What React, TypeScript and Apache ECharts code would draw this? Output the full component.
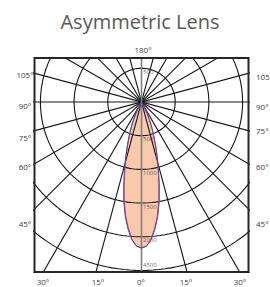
import React, { useEffect, useRef } from "react";
import * as echarts from "echarts";

// Ring (intensity grid) values in cd and their printed labels
const ringValues = [500, 1000, 1500, 2000, 2500, 3000];
const ringLabelValues = [500, 1000, 1500, 2000, 2500];
const ringLabels = ["500", "1000", "1500", "2000", "4500"];
// Spoke (diameter) angles in degrees, measured from the downward 0° direction
const spokeAngles = [0, 15, 30, 45, 60, 75, 90, 105, 120, 135, 150, 165];
// Luminous intensity curve: angle from nadir (deg) -> intensity (cd)
const curveAngles = [0, 2, 4, 6, 8, 10, 12, 14, 16, 18, 20, 22, 24, 26, 28, 30];
const redIntensity = [2170, 2140, 2040, 1880, 1700, 1480, 1240, 1020, 830, 660, 520, 400, 290, 190, 90, 0];
const blueIntensity = [2165, 2140, 2050, 1900, 1725, 1510, 1270, 1045, 850, 680, 535, 410, 300, 195, 95, 0];
// Angle labels around the frame
const leftAngleLabels = ["105°", "90°", "75°", "60°", "45°"];
const rightAngleLabels = ["105", "90°", "75°", "60°", "45°"];
const bottomAngleLabels = ["30°", "15°", "0°", "15°", "30°"];
const topAngleLabel = "180°";
const titleText = "Asymmetric Lens";

const rad = (d: number) => (d * Math.PI) / 180;

function curvePoints(angles: number[], vals: number[]): number[][] {
  const pts: number[][] = [];
  for (let i = angles.length - 1; i >= 0; i--) {
    const a = rad(angles[i]);
    pts.push([vals[i] * Math.sin(a), -vals[i] * Math.cos(a)]);
  }
  for (let i = 1; i < angles.length; i++) {
    const a = rad(-angles[i]);
    pts.push([vals[i] * Math.sin(a), -vals[i] * Math.cos(a)]);
  }
  return pts;
}

function ringPoints(r: number): number[][] {
  const pts: number[][] = [];
  for (let d = 0; d <= 360; d += 2) {
    pts.push([r * Math.sin(rad(d)), -r * Math.cos(rad(d))]);
  }
  return pts;
}

export default function App() {
  const ref = useRef<HTMLDivElement>(null);
  useEffect(() => {
    if (!ref.current) return;
    const chart = echarts.init(ref.current, null, { renderer: "svg" });
    const redPts = curvePoints(curveAngles, redIntensity);
    const bluePts = curvePoints(curveAngles, blueIntensity);
    const R = 3200;
    const series: any[] = [];
    series.push({
      type: "custom",
      coordinateSystem: "cartesian2d",
      data: [0],
      silent: true,
      z: 1,
      renderItem: (_p: any, api: any) => ({
        type: "polygon",
        shape: { points: bluePts.map((p) => api.coord(p)) },
        style: { fill: "#f8c9ab", stroke: "none" },
      }),
    });
    ringValues.forEach((r) => {
      series.push({
        type: "line",
        data: ringPoints(r),
        symbol: "none",
        silent: true,
        z: 2,
        lineStyle: { color: "#141414", width: 1.1 },
      });
    });
    spokeAngles.forEach((a) => {
      const s = Math.sin(rad(a));
      const c = Math.cos(rad(a));
      series.push({
        type: "line",
        data: [
          [R * s, -R * c],
          [-R * s, R * c],
        ],
        symbol: "none",
        silent: true,
        z: a === 0 ? 3 : 2,
        lineStyle: a === 0 ? { color: "#808080", width: 1.6 } : { color: "#141414", width: 1.1 },
      });
    });
    series.push({
      type: "line",
      data: redPts,
      symbol: "none",
      silent: true,
      z: 5,
      lineStyle: { color: "#d9423a", width: 1 },
    });
    series.push({
      type: "line",
      data: bluePts,
      symbol: "none",
      silent: true,
      z: 6,
      lineStyle: { color: "#4a46c8", width: 1 },
    });
    const labelData: any[] = ringLabelValues.map((v, i) => ({
      value: [0, -v],
      label: {
        formatter: ringLabels[i],
        position: i === ringLabelValues.length - 1 ? [2, -8] : [2, 1],
      },
    }));
    labelData.push({ value: [0, ringLabelValues[0]], label: { formatter: ringLabels[0], position: [2, 1] } });
    series.push({
      type: "scatter",
      data: labelData,
      symbolSize: 1,
      silent: true,
      z: 7,
      itemStyle: { color: "rgba(0,0,0,0)" },
      label: {
        show: true,
        color: "#444444",
        fontSize: 6,
        fontFamily: "Open Sans",
      },
    });

    const txt = (text: string, x: number, y: number, size = 8, align = "center", color = "#404040") => ({
      type: "text",
      x,
      y,
      z: 200,
      style: {
        text,
        fill: color,
        fontSize: size,
        fontFamily: "Open Sans",
        textAlign: align,
        textVerticalAlign: "middle",
      },
    });
    const leftYs = [74, 105, 137, 166, 223];
    const rightYs = [76, 106, 130, 166, 223];
    const bottomXs = [43, 98, 141, 186, 240];
    const graphics: any[] = [
      txt(titleText, 140, 21, 20, "center", "#595959"),
      txt(topAngleLabel, 143, 49),
      {
        type: "rect",
        z: 150,
        shape: { x: 34.5, y: 58, width: 214, height: 214 },
        style: { fill: "none", stroke: "#262626", lineWidth: 2 },
      },
    ];
    leftAngleLabels.forEach((t, i) => graphics.push(txt(t, 25, leftYs[i])));
    rightAngleLabels.forEach((t, i) => graphics.push(txt(t, 256, rightYs[i], 8, "left")));
    bottomAngleLabels.forEach((t, i) => graphics.push(txt(t, bottomXs[i], 281)));

    chart.setOption({
      animation: false,
      grid: { left: 34.5, top: 58, width: 214, height: 214, show: false },
      xAxis: { type: "value", min: -1588, max: 1588, show: false },
      yAxis: { type: "value", min: -2523, max: 653, show: false },
      series,
      graphic: graphics,
    });
    return () => chart.dispose();
  }, []);
  return (
    <div
      ref={ref}
      style={{ position: "absolute", left: 0, top: 0, width: 270, height: 287, background: "#fff" }}
    />
  );
}
